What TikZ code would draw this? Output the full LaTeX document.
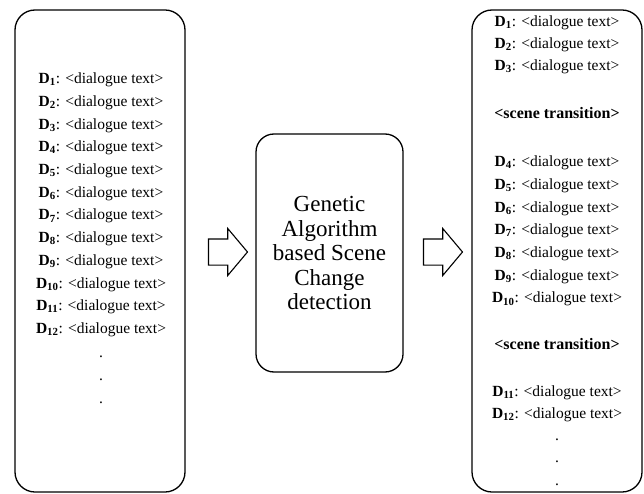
\documentclass[tikz,border=0pt]{standalone}
\usepackage{fontspec}
\setmainfont{Liberation Serif}
\usetikzlibrary{shapes.arrows,calc}
\tikzset{
  column/.style={draw, line width=1.3pt, rounded corners=20pt, minimum width=170pt, minimum height=482pt},
  stage/.style={draw, line width=1.3pt, rounded corners=18pt, minimum width=147pt, minimum height=238pt, align=center, font=\rmfamily\fontsize{23}{24.5}\selectfont},
  flow/.style={single arrow, draw, line width=1.1pt, inner xsep=0pt, inner ysep=12.5pt, minimum height=39pt, minimum width=46pt, single arrow head extend=10.5pt, single arrow tip angle=100},
  line/.style={font=\fontsize{15.5}{18}\selectfont, inner sep=0pt},
  cut/.style={font=\fontsize{16}{18}\selectfont\bfseries, inner sep=0pt}
}
\newcommand{\dlg}[1]{\textbf{D}\textsubscript{\bfseries #1}: {\normalfont<dialogue text>}}
\begin{document}
\begin{tikzpicture}[x=1pt,y=-1pt]
	\useasboundingbox (0,0) rectangle (644,494);
	\node[column] (input) at (100,251) {};
	\node[column] (output) at (557,251) {};
	\node[stage] (ga) at (329.5,253) {Genetic\\Algorithm\\based Scene\\Change\\detection};
	\node[flow] (arrin) at ($(input.east)!0.5!(ga.west)+(2,0)$) {};
	\node[flow] (arrout) at ($(ga.east)!0.5!(output.west)$) {};
	\foreach \i in {1,...,12}
		\node[line] (in\i) at (101,{80+(\i-1)*22.7}) {\dlg{\i}};
	\foreach \i/\y in {1/357,2/380,3/403}
		\node[line] (indot\i) at (101,\y) {.};
	\foreach \i in {1,2,3}
		\node[line] (out\i) at (557,{23+(\i-1)*22}) {\dlg{\i}};
	\node[cut] (cut1) at (557,113) {<scene transition>};
	\foreach \i in {4,...,10}
		\node[line] (out\i) at (557,{163+(\i-4)*22.7}) {\dlg{\i}};
	\node[cut] (cut2) at (557,344) {<scene transition>};
	\node[line] (out11) at (557,393) {\dlg{11}};
	\node[line] (out12) at (557,415) {\dlg{12}};
	\foreach \i/\y in {1/440,2/462,3/485}
		\node[line] (outdot\i) at (557,\y) {.};
\end{tikzpicture}
\end{document}
